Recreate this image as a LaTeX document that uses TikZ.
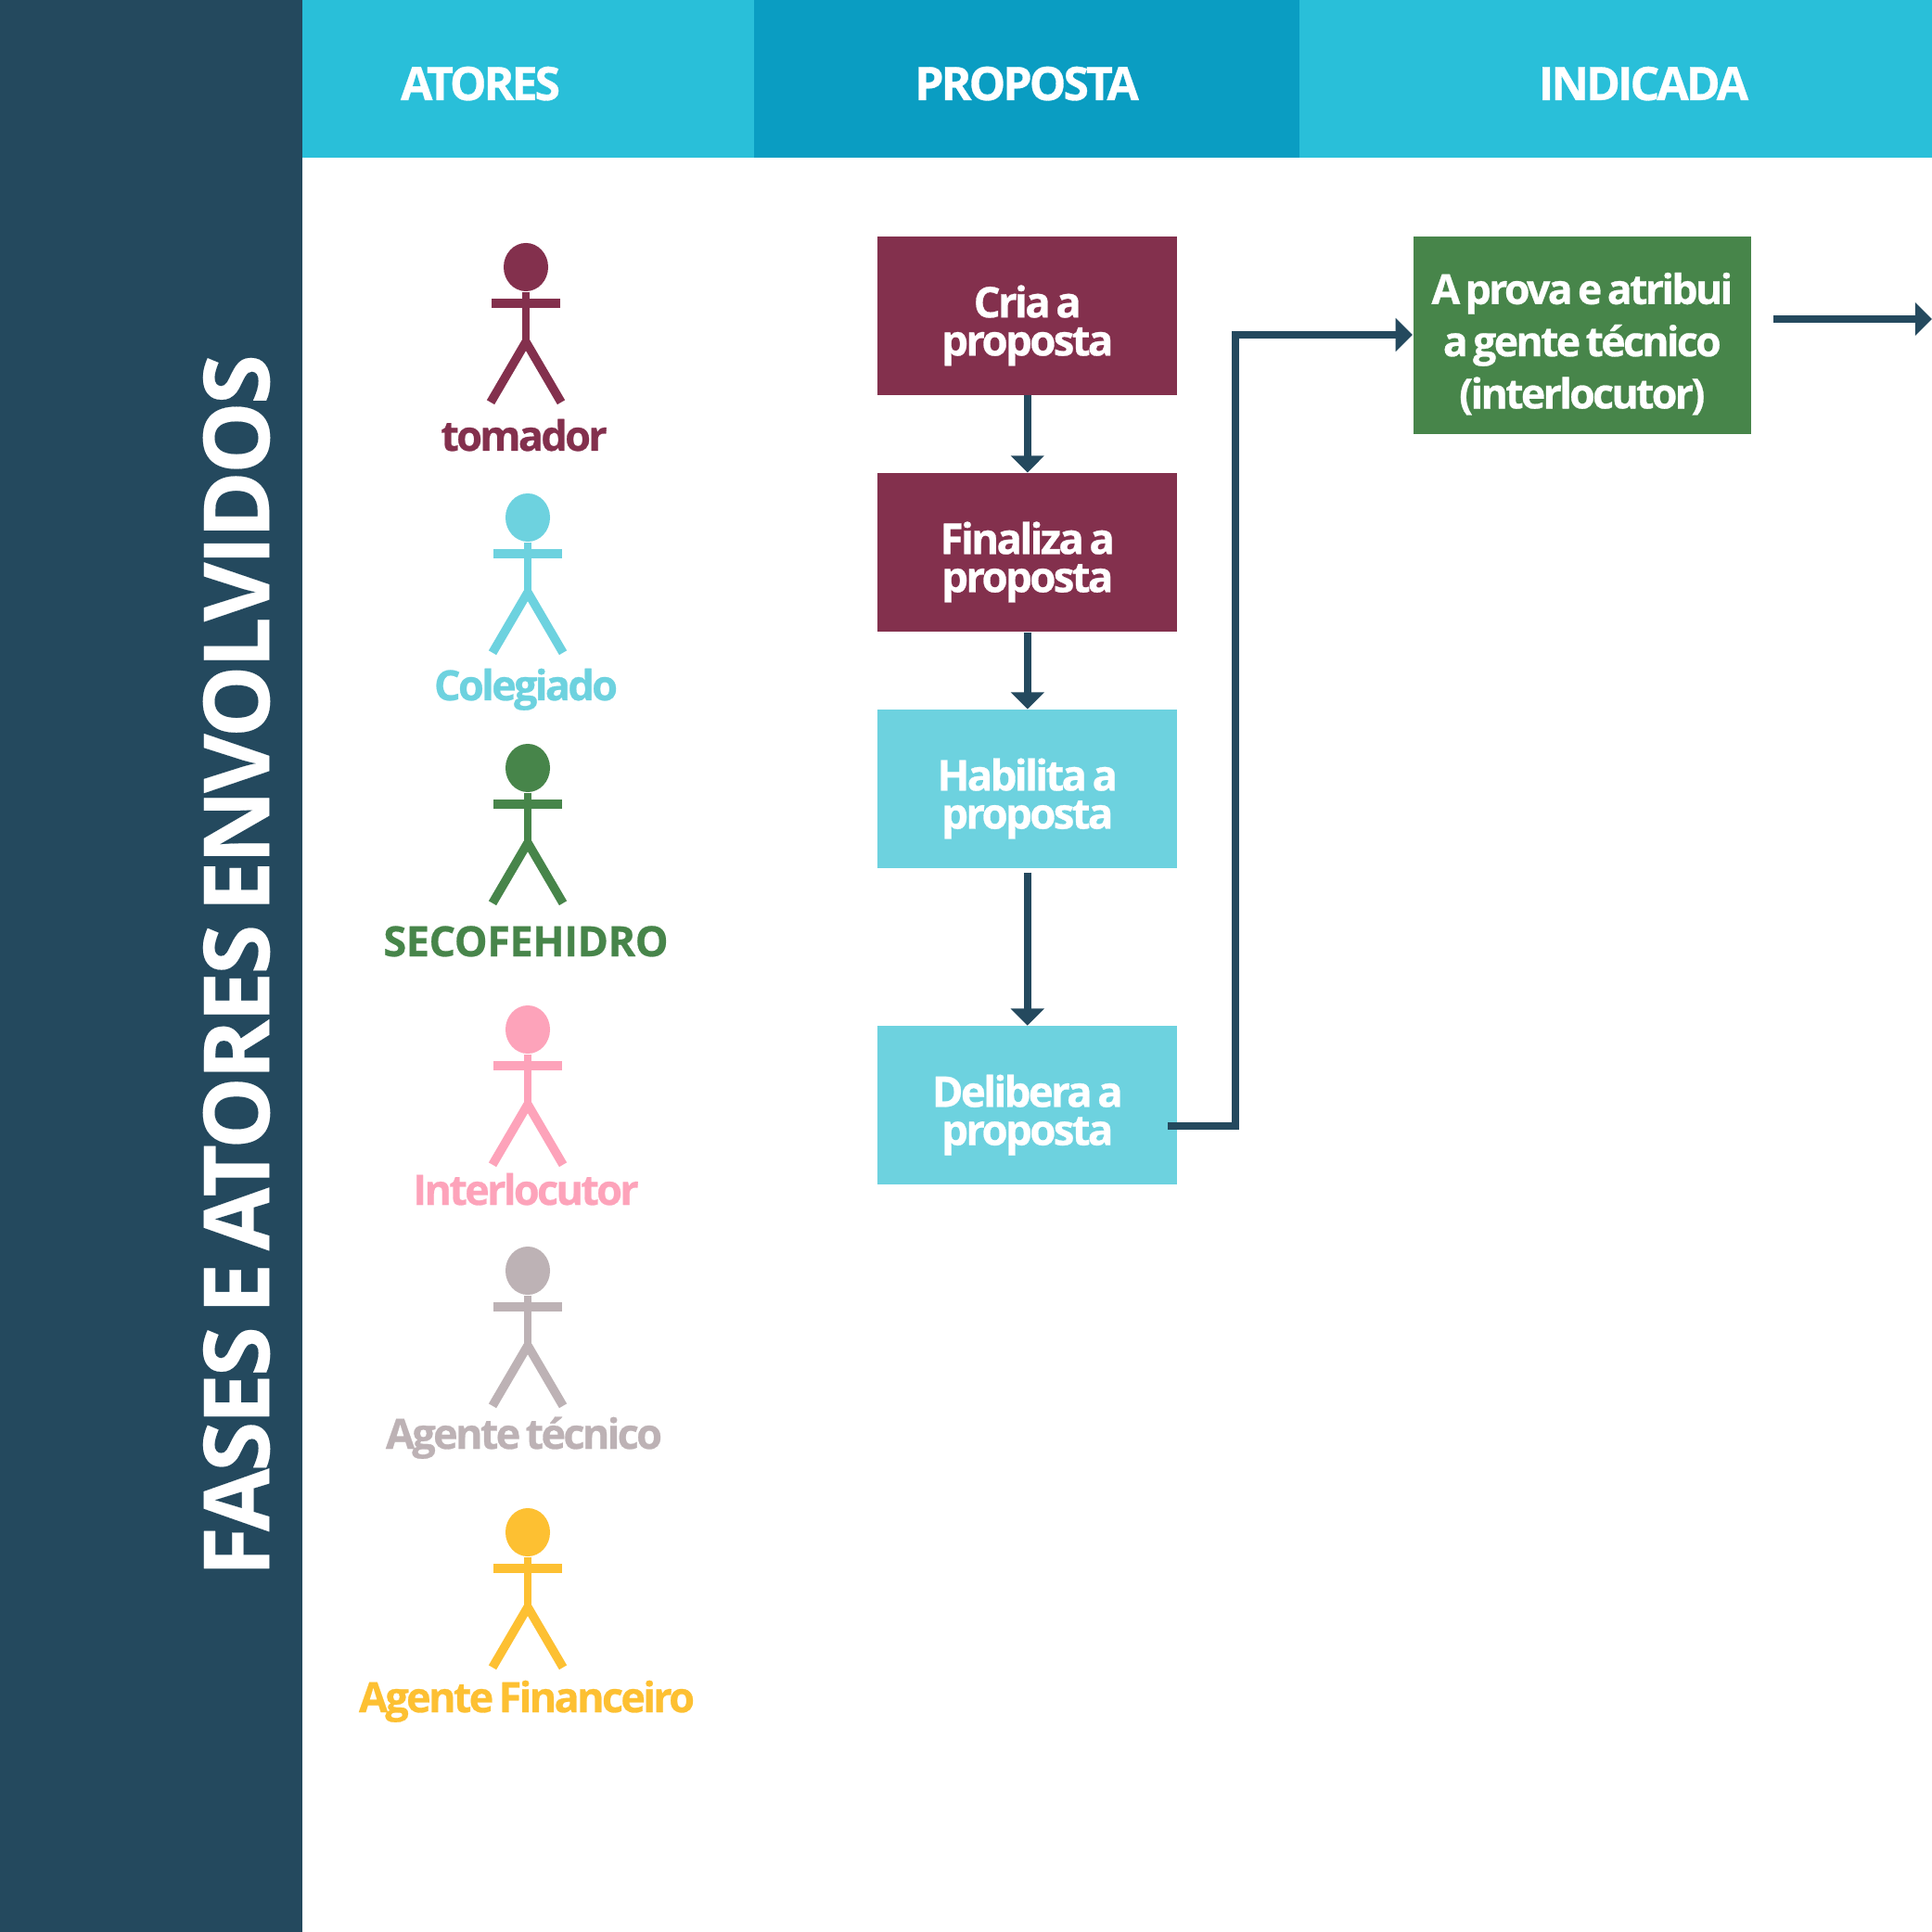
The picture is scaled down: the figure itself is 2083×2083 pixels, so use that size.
\documentclass[tikz,border=0pt]{standalone}
\usepackage{fontspec}
\setmainfont[LetterSpace=-6, WordSpace=0.6, BoldFeatures={FakeBold=0.6}]{Open Sans}
\newfontfamily\titlefont[LetterSpace=-3.5, WordSpace=0.6, BoldFeatures={FakeBold=0.2}]{Open Sans}
\usetikzlibrary{shapes.geometric, arrows.meta, positioning}

\definecolor{navy}{HTML}{24495E}
\definecolor{bandcyan}{HTML}{29BFD9}
\definecolor{banddeep}{HTML}{0A9DC2}
\definecolor{wine}{HTML}{83304D}
\definecolor{skyblue}{HTML}{6DD2DF}
\definecolor{leaf}{HTML}{47854A}
\definecolor{rosa}{HTML}{FDA3BA}
\definecolor{cinza}{HTML}{BDB2B5}
\definecolor{amarelo}{HTML}{FDC032}

\begin{document}
\begin{tikzpicture}[
        x=0.01cm, y=-0.01cm,
        node distance=8.3mm,
        header/.style={text=white, font=\bfseries\fontsize{14.2}{16}\selectfont, anchor=base},
        phase/.style={rectangle, text=white, minimum width=32.3mm, minimum height=17.05mm, align=center, inner sep=0pt, text height=27.5pt, font=\bfseries\fontsize{13}{11.7}\selectfont},
        actorname/.style={anchor=base, font=\bfseries\fontsize{12.8}{15}\selectfont},
        line/.style={draw=navy, line width=2.2pt, -{Triangle[length=5.2pt,width=10pt]}}
    ]
        \useasboundingbox (0,0) rectangle (2083,2083);
        \fill[white] (0,0) rectangle (2083,2083);

        % Bands
        \fill[navy] (0,0) rectangle (326,2083);
        \fill[bandcyan] (326,0) rectangle (2083,170);
        \fill[banddeep] (813,0) rectangle (1401,170);
        \node[rotate=90, text=white, font=\titlefont\bfseries\fontsize{28}{32}\selectfont] (titulo) at (255,1041) {FASES E ATORES ENVOLVIDOS};
        \node[header] (atores) at (518,108) {ATORES};
        \node[header] (proposta) at (1107,108) {PROPOSTA};
        \node[header] (indicada) at (1772,108) {INDICADA};

        % Actors
        \foreach \id/\col/\hx/\hy/\lx/\ly/\txt in {
            tomador/wine/567/288/565/486/tomador,
            colegiado/skyblue/569/558/567/755/Colegiado,
            secofe/leaf/569/828/567/1031/{\addfontfeature{LetterSpace=-1}SECOFEHIDRO},
            interloc/rosa/569/1110/567/1299/Interlocutor,
            agtec/cinza/569/1370/565/1562/Agente técnico,
            agfin/amarelo/569/1652/568/1846/Agente Financeiro}{
            \node[ellipse, fill=\col, minimum width=4.8mm, minimum height=5.2mm, inner sep=0pt] (\id) at (\hx,\hy) {};
            \node[actorname, text=\col] (\id name) at (\lx,\ly) {\txt};
            \draw[\col, line width=2.4pt] (\id.south) -- ++(0,54) coordinate (\id hip);
            \draw[\col, line width=2.9pt] (\id hip) ++(-37,-41.5) -- ++(74,0);
            \draw[\col, line width=2.7pt] (\id hip) -- ++(-38,65);
            \draw[\col, line width=2.7pt] (\id hip) -- ++(38,65);
        }

        % Proposal column
        \node[phase, fill=wine, anchor=north west] (cria) at (945.5,254.5) {Cria a\\proposta};
        \node[phase, fill=wine, below=of cria] (finaliza) {Finaliza a\\proposta};
        \node[phase, fill=skyblue, below=of finaliza] (habilita) {Habilita a\\proposta};
        \node[phase, fill=skyblue, below=16.9mm of habilita] (delibera) {Delibera a\\proposta};

        \draw[line] (cria) -- (finaliza);
        \draw[line] (finaliza) -- (habilita);
        \draw[line] (habilita.south) ++(0,4) -- (delibera);

        % Indicated column
        \node[phase, fill=leaf, minimum width=36.4mm, minimum height=21.3mm, anchor=north west, text height=47pt, font=\bfseries\fontsize{12.7}{16}\selectfont] (aprova) at (1523,254) {A prova e atribui\\a gente técnico\\(interlocutor)};
        \coordinate (sai) at (1259,1214);
        \coordinate (cotovelo) at (1332,361);
        \coordinate (inicio) at (1912,344);
        \coordinate (fim) at (2083,344);

        \draw[line] (sai) -| (cotovelo) -- (cotovelo -| aprova.west);
        \draw[line] (inicio) -- (fim);
    \end{tikzpicture}
\end{document}
